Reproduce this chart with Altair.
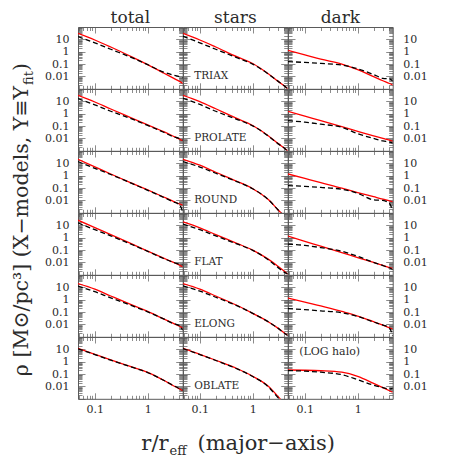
import altair as alt
import pandas as pd

# radius grid (r / r_eff, major axis)
R = [0.048, 0.1, 0.2, 0.5, 1, 2, 3, 4, 4.6]

ROWS = ["TRIAX", "PROLATE", "ROUND", "FLAT", "ELONG", "OBLATE"]
COLS = ["total", "stars", "dark"]

# log10(rho): RED = solid red, BLACK = dashed black
TRIAX_TOTAL_RED   = [1.48, 0.95, 0.38, -0.42, -1.05, -1.72, -2.12, -2.40, -2.56]
TRIAX_TOTAL_BLACK = [1.22, 0.72, 0.20, -0.48, -1.05, -1.65, -1.88, -2.02, -2.12]
TRIAX_STARS_RED   = [1.49, 0.95, 0.38, -0.40, -0.95, -1.80, -2.38, -2.78, -3.00]
TRIAX_STARS_BLACK = [1.25, 0.72, 0.20, -0.48, -1.00, -1.82, -2.38, -2.78, -3.00]
TRIAX_DARK_RED    = [0.11, -0.25, -0.60, -1.00, -1.45, -2.02, -2.35, -2.57, -2.69]
TRIAX_DARK_BLACK  = [-0.80, -0.87, -0.95, -1.07, -1.38, -1.85, -2.15, -2.20, -2.37]

PROLATE_TOTAL_RED   = [1.49, 0.95, 0.38, -0.35, -0.90, -1.45, -1.80, -2.05, -2.18]
PROLATE_TOTAL_BLACK = [1.22, 0.72, 0.20, -0.42, -0.95, -1.50, -1.85, -2.02, -2.15]
PROLATE_STARS_RED   = [1.49, 0.98, 0.40, -0.38, -0.95, -1.80, -2.40, -2.80, -3.00]
PROLATE_STARS_BLACK = [1.25, 0.75, 0.20, -0.45, -0.98, -1.82, -2.42, -2.80, -3.05]
PROLATE_DARK_RED    = [0.19, -0.20, -0.56, -1.05, -1.42, -1.79, -2.00, -2.14, -2.22]
PROLATE_DARK_BLACK  = [-0.56, -0.68, -0.85, -1.10, -1.62, -2.00, -2.20, -2.30, -2.37]

ROUND_TOTAL_RED   = [1.33, 0.72, 0.14, -0.60, -1.15, -1.72, -2.05, -2.28, -2.37]
ROUND_TOTAL_BLACK = [1.14, 0.60, 0.10, -0.62, -1.18, -1.75, -2.10, -2.35, -2.90]
ROUND_STARS_RED   = [1.33, 0.85, 0.28, -0.45, -1.05, -1.95, -2.75, -3.30, -3.60]
ROUND_STARS_BLACK = [1.15, 0.70, 0.20, -0.48, -1.05, -1.95, -2.75, -3.30, -3.60]
ROUND_DARK_RED    = [0.14, -0.22, -0.56, -1.00, -1.36, -1.70, -1.90, -2.03, -2.10]
ROUND_DARK_BLACK  = [-0.80, -0.86, -0.95, -1.10, -1.42, -1.95, -2.00, -2.25, -2.85]

FLAT_TOTAL_RED   = [1.42, 0.82, 0.25, -0.50, -1.08, -1.65, -1.98, -2.22, -2.35]
FLAT_TOTAL_BLACK = [1.20, 0.65, 0.15, -0.55, -1.10, -1.68, -1.98, -2.15, -2.22]
FLAT_STARS_RED   = [1.28, 0.80, 0.25, -0.45, -1.00, -1.75, -2.30, -2.72, -2.95]
FLAT_STARS_BLACK = [1.10, 0.65, 0.15, -0.50, -1.02, -1.80, -2.40, -2.80, -2.92]
FLAT_DARK_RED    = [0.13, -0.29, -0.68, -1.20, -1.61, -2.00, -2.24, -2.41, -2.49]
FLAT_DARK_BLACK  = [-0.52, -0.62, -0.80, -1.10, -1.50, -2.00, -2.25, -2.45, -2.57]

ELONG_TOTAL_RED   = [1.30, 0.85, 0.30, -0.42, -0.95, -1.55, -1.90, -2.15, -2.29]
ELONG_TOTAL_BLACK = [1.10, 0.65, 0.15, -0.48, -0.98, -1.55, -1.92, -2.10, -2.46]
ELONG_STARS_RED   = [1.30, 0.85, 0.30, -0.45, -1.10, -1.80, -2.30, -2.70, -2.88]
ELONG_STARS_BLACK = [1.12, 0.70, 0.20, -0.48, -1.10, -1.80, -2.30, -2.72, -2.90]
ELONG_DARK_RED    = [0.14, -0.20, -0.50, -0.95, -1.32, -1.78, -2.06, -2.27, -2.37]
ELONG_DARK_BLACK  = [-0.72, -0.80, -0.90, -1.05, -1.35, -1.80, -2.05, -2.30, -2.94]

OBLATE_TOTAL_RED   = [1.08, 0.60, 0.15, -0.42, -0.86, -1.50, -1.92, -2.20, -2.34]
OBLATE_TOTAL_BLACK = [1.05, 0.58, 0.12, -0.44, -0.88, -1.50, -1.90, -2.18, -2.30]
OBLATE_STARS_RED   = [1.08, 0.60, 0.12, -0.55, -1.18, -2.00, -2.80, -3.40, -3.70]
OBLATE_STARS_BLACK = [1.06, 0.58, 0.10, -0.57, -1.20, -2.05, -2.90, -3.50, -3.80]
OBLATE_DARK_RED    = [-0.67, -0.69, -0.73, -0.85, -1.18, -1.75, -2.10, -2.35, -2.47]
OBLATE_DARK_BLACK  = [-0.72, -0.76, -0.85, -1.05, -1.45, -1.90, -2.10, -2.20, -2.15]

CURVES = {
    ("TRIAX", "total"): (TRIAX_TOTAL_RED, TRIAX_TOTAL_BLACK),
    ("TRIAX", "stars"): (TRIAX_STARS_RED, TRIAX_STARS_BLACK),
    ("TRIAX", "dark"): (TRIAX_DARK_RED, TRIAX_DARK_BLACK),
    ("PROLATE", "total"): (PROLATE_TOTAL_RED, PROLATE_TOTAL_BLACK),
    ("PROLATE", "stars"): (PROLATE_STARS_RED, PROLATE_STARS_BLACK),
    ("PROLATE", "dark"): (PROLATE_DARK_RED, PROLATE_DARK_BLACK),
    ("ROUND", "total"): (ROUND_TOTAL_RED, ROUND_TOTAL_BLACK),
    ("ROUND", "stars"): (ROUND_STARS_RED, ROUND_STARS_BLACK),
    ("ROUND", "dark"): (ROUND_DARK_RED, ROUND_DARK_BLACK),
    ("FLAT", "total"): (FLAT_TOTAL_RED, FLAT_TOTAL_BLACK),
    ("FLAT", "stars"): (FLAT_STARS_RED, FLAT_STARS_BLACK),
    ("FLAT", "dark"): (FLAT_DARK_RED, FLAT_DARK_BLACK),
    ("ELONG", "total"): (ELONG_TOTAL_RED, ELONG_TOTAL_BLACK),
    ("ELONG", "stars"): (ELONG_STARS_RED, ELONG_STARS_BLACK),
    ("ELONG", "dark"): (ELONG_DARK_RED, ELONG_DARK_BLACK),
    ("OBLATE", "total"): (OBLATE_TOTAL_RED, OBLATE_TOTAL_BLACK),
    ("OBLATE", "stars"): (OBLATE_STARS_RED, OBLATE_STARS_BLACK),
    ("OBLATE", "dark"): (OBLATE_DARK_RED, OBLATE_DARK_BLACK),
}

X_TICKS = [0.05, 0.06, 0.07, 0.08, 0.09, 0.1, 0.2, 0.3, 0.4, 0.5, 0.6, 0.7, 0.8, 0.9,
           1, 2, 3, 4]
Y_TICKS = [round(m * 10.0 ** d, 6) for d in range(-3, 2) for m in range(1, 10)] + [100]
Y_LABELS = [10, 1, 0.1, 0.01]
X_LABELS = [0.1, 1]

# row-label position (in data units) and the dark/OBLATE note
ROW_LABEL_R = 0.078
ROW_LABEL_RHO = 0.011
NOTE_TEXT = "(LOG halo)"
NOTE_R = 0.078
NOTE_RHO = 6.2

W, H = 104.7, 61.8
X_DOMAIN = [0.048, 4.6]
Y_DOMAIN = [0.001, 100]
SERIF = "DejaVu Serif"
TXT = "#2b2b2b"
AXC = "#5a5a5a"

XS = alt.Scale(type="log", domain=X_DOMAIN, nice=False)
YS = alt.Scale(type="log", domain=Y_DOMAIN, nice=False)

X_MAJOR = "datum.value==0.1||datum.value==1"
Y_MAJOR = ("datum.value==0.001||datum.value==0.01||datum.value==0.1||"
           "datum.value==1||datum.value==10||datum.value==100")


def tick_axis(orient, ch):
    off = -H if ch == "x" else -W
    major = X_MAJOR if ch == "x" else Y_MAJOR
    big, small = (6, 3.5) if ch == "x" else (7, 4)
    return alt.Axis(orient=orient, offset=off, values=X_TICKS if ch == "x" else Y_TICKS,
                    labels=False, title=None, grid=False, domainColor=AXC, domainWidth=1,
                    tickColor=AXC, tickWidth=0.7,
                    tickSize={"condition": {"test": major, "value": big}, "value": small})


def label_axis(orient, ch, pad):
    return alt.Axis(orient=orient, values=X_LABELS if ch == "x" else Y_LABELS,
                    ticks=False, tickSize=0, domain=False, grid=False, title=None,
                    format="~g", labelFont=SERIF, labelFontSize=11, labelColor=TXT,
                    labelPadding=pad, labelOverlap=False, labelFlush=False, labelBound=False)


def panel(ri, ci):
    row, col = ROWS[ri], COLS[ci]
    red, black = CURVES[(row, col)]
    d_red = pd.DataFrame({"r": R, "rho": [10 ** v for v in red]})
    d_blk = pd.DataFrame({"r": R, "rho": [10 ** v for v in black]})

    l_red = alt.Chart(d_red).mark_line(color="#ff0000", strokeWidth=1.3, clip=True,
                                       interpolate="monotone").encode(
        x=alt.X("r:Q", scale=XS, axis=tick_axis("top", "x")),
        y=alt.Y("rho:Q", scale=YS, axis=tick_axis("right", "y")))
    l_blk = alt.Chart(d_blk).mark_line(color="#000000", strokeWidth=1.3, strokeDash=[5, 3],
                                       clip=True, interpolate="monotone").encode(
        x=alt.X("r:Q", scale=XS, axis=tick_axis("bottom", "x")),
        y=alt.Y("rho:Q", scale=YS, axis=tick_axis("left", "y")))
    layers = [l_red, l_blk]

    if ri == 5 or ci == 0:
        layers.append(alt.Chart(d_red).mark_line(opacity=0).encode(
            x=alt.X("r:Q", scale=XS, axis=label_axis("bottom", "x", 5) if ri == 5 else None),
            y=alt.Y("rho:Q", scale=YS, axis=label_axis("left", "y", 9) if ci == 0 else None)))
    if ci == 2:
        layers.append(alt.Chart(d_red).mark_line(opacity=0).encode(
            x=alt.X("r:Q", scale=XS, axis=None),
            y=alt.Y("rho:Q", scale=YS, axis=label_axis("right", "y", 10))))

    if ci == 1:
        layers.append(alt.Chart(pd.DataFrame({"r": [ROW_LABEL_R], "rho": [ROW_LABEL_RHO],
                                              "t": [row]})).mark_text(
            align="left", baseline="middle", font=SERIF, fontSize=10.5, color=TXT).encode(
            x=alt.X("r:Q", scale=XS, axis=None), y=alt.Y("rho:Q", scale=YS, axis=None),
            text="t:N"))
    if ri == 5 and ci == 2:
        layers.append(alt.Chart(pd.DataFrame({"r": [NOTE_R], "rho": [NOTE_RHO],
                                              "t": [NOTE_TEXT]})).mark_text(
            align="left", baseline="middle", font=SERIF, fontSize=11, color=TXT).encode(
            x=alt.X("r:Q", scale=XS, axis=None), y=alt.Y("rho:Q", scale=YS, axis=None),
            text="t:N"))

    if ri == 0:
        layers.append(alt.Chart(pd.DataFrame({"t": [col]})).mark_text(
            align="center", baseline="alphabetic", font=SERIF, fontSize=17, color=TXT).encode(
            x=alt.value(W / 2), y=alt.value(-4), text="t:N"))

    if ri == 2 and ci == 0:
        # rotated y title, centred on the grid
        layers.append(alt.Chart(pd.DataFrame({"t": ["ρ [M⊙/pc³] (X−models, Υ≡Υ"]})).mark_text(
            angle=270, align="right", baseline="middle", font=SERIF, fontSize=20.5,
            color=TXT).encode(x=alt.value(-56.5), y=alt.value(-65), text="t:N"))
        layers.append(alt.Chart(pd.DataFrame({"t": ["fit"]})).mark_text(
            angle=270, align="left", baseline="middle", font=SERIF, fontSize=13,
            color=TXT).encode(x=alt.value(-49.5), y=alt.value(-66), text="t:N"))
        layers.append(alt.Chart(pd.DataFrame({"t": [")"]})).mark_text(
            angle=270, align="left", baseline="middle", font=SERIF, fontSize=20.5,
            color=TXT).encode(x=alt.value(-56.5), y=alt.value(-80), text="t:N"))

    if ri == 5 and ci == 1:
        layers.append(alt.Chart(pd.DataFrame({"t": ["r/r"]})).mark_text(
            align="right", baseline="alphabetic", font=SERIF, fontSize=21,
            color=TXT).encode(x=alt.value(-14.5), y=alt.value(113), text="t:N"))
        layers.append(alt.Chart(pd.DataFrame({"t": ["eff"]})).mark_text(
            align="left", baseline="alphabetic", font=SERIF, fontSize=13,
            color=TXT).encode(x=alt.value(-13.5), y=alt.value(118), text="t:N"))
        layers.append(alt.Chart(pd.DataFrame({"t": ["(major−axis)"]})).mark_text(
            align="left", baseline="alphabetic", font=SERIF, fontSize=21,
            color=TXT).encode(x=alt.value(14.5), y=alt.value(113), text="t:N"))

    return alt.layer(*layers).resolve_axis(x="independent", y="independent").properties(
        width=W, height=H)


panels = [panel(ri, ci) for ri in range(6) for ci in range(3)]

chart = alt.concat(*panels, columns=3, spacing=0, bounds="flush").properties(
    padding={"left": 3, "top": 0, "right": 0, "bottom": 0},
    background="white").configure_view(stroke="transparent")

chart.save("out.html", embed_options={"renderer": "svg", "actions": False})
